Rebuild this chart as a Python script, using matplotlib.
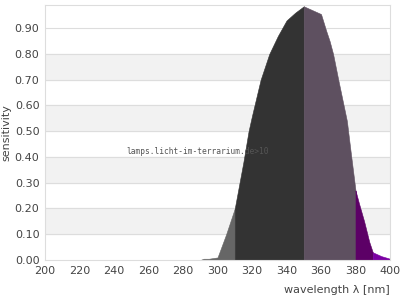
import numpy as np
import matplotlib.pyplot as plt

# spectral sensitivity
wl = [290, 292, 295, 300, 305, 310, 315, 318, 320, 325, 330, 335, 340, 345, 350,
      355, 360, 363, 365, 367, 370, 375, 377, 380, 382, 385, 388, 390, 395, 400]
sens = [0.0, 0.005, 0.005, 0.01, 0.10, 0.20, 0.38, 0.50, 0.56, 0.70, 0.80, 0.87,
        0.93, 0.96, 0.985, 0.97, 0.955, 0.89, 0.85, 0.80, 0.70, 0.54, 0.43, 0.27,
        0.22, 0.15, 0.07, 0.03, 0.015, 0.005]

# colour ranges along the wavelength axis
bands = [(290, 310, '#666666'), (310, 350, '#333333'), (350, 380, '#5e5060'),
         (380, 390, '#5c0066'), (390, 400, '#7b00a3')]

yticks = np.arange(0, 0.91, 0.1)
xticks = np.arange(200, 401, 20)

wl = np.array(wl, dtype=float)
sens = np.array(sens)

fig = plt.figure(figsize=(4, 3), dpi=100)
ax = fig.add_axes([0.1125, 0.1333, 0.8625, 0.85])

ymax = 0.99
for lo in [0.1, 0.3, 0.5, 0.7]:
    ax.axhspan(lo, lo + 0.1, color='#f2f2f2', zorder=0)
for t in yticks[1:]:
    ax.axhline(t, color='#dddddd', lw=0.8, zorder=1)

for lo, hi, c in bands:
    xs = np.linspace(lo, hi, 200)
    ax.fill_between(xs, 0, np.interp(xs, wl, sens), facecolor=c, edgecolor=c,
                    lw=0.4, zorder=2)

ax.text(247, 0.42, 'lamps.licht-im-terrarium.de>10', family='DejaVu Sans Mono',
        fontsize=5.7, color='#555555', va='center', zorder=3)

ax.set_xlim(200, 400)
ax.set_ylim(0, ymax)
ax.set_xticks(xticks)
ax.set_yticks(yticks)
ax.set_yticklabels(['%.2f' % t for t in yticks])
ax.tick_params(length=0, labelsize=8, labelcolor='#444444', pad=4)
for s in ax.spines.values():
    s.set_color('#dddddd')
ax.set_ylabel('sensitivity', fontsize=8, color='#444444', labelpad=2)
ax.set_xlabel('wavelength λ [nm]', fontsize=8, color='#444444', loc='right',
              labelpad=7)

fig.savefig('out.png')
